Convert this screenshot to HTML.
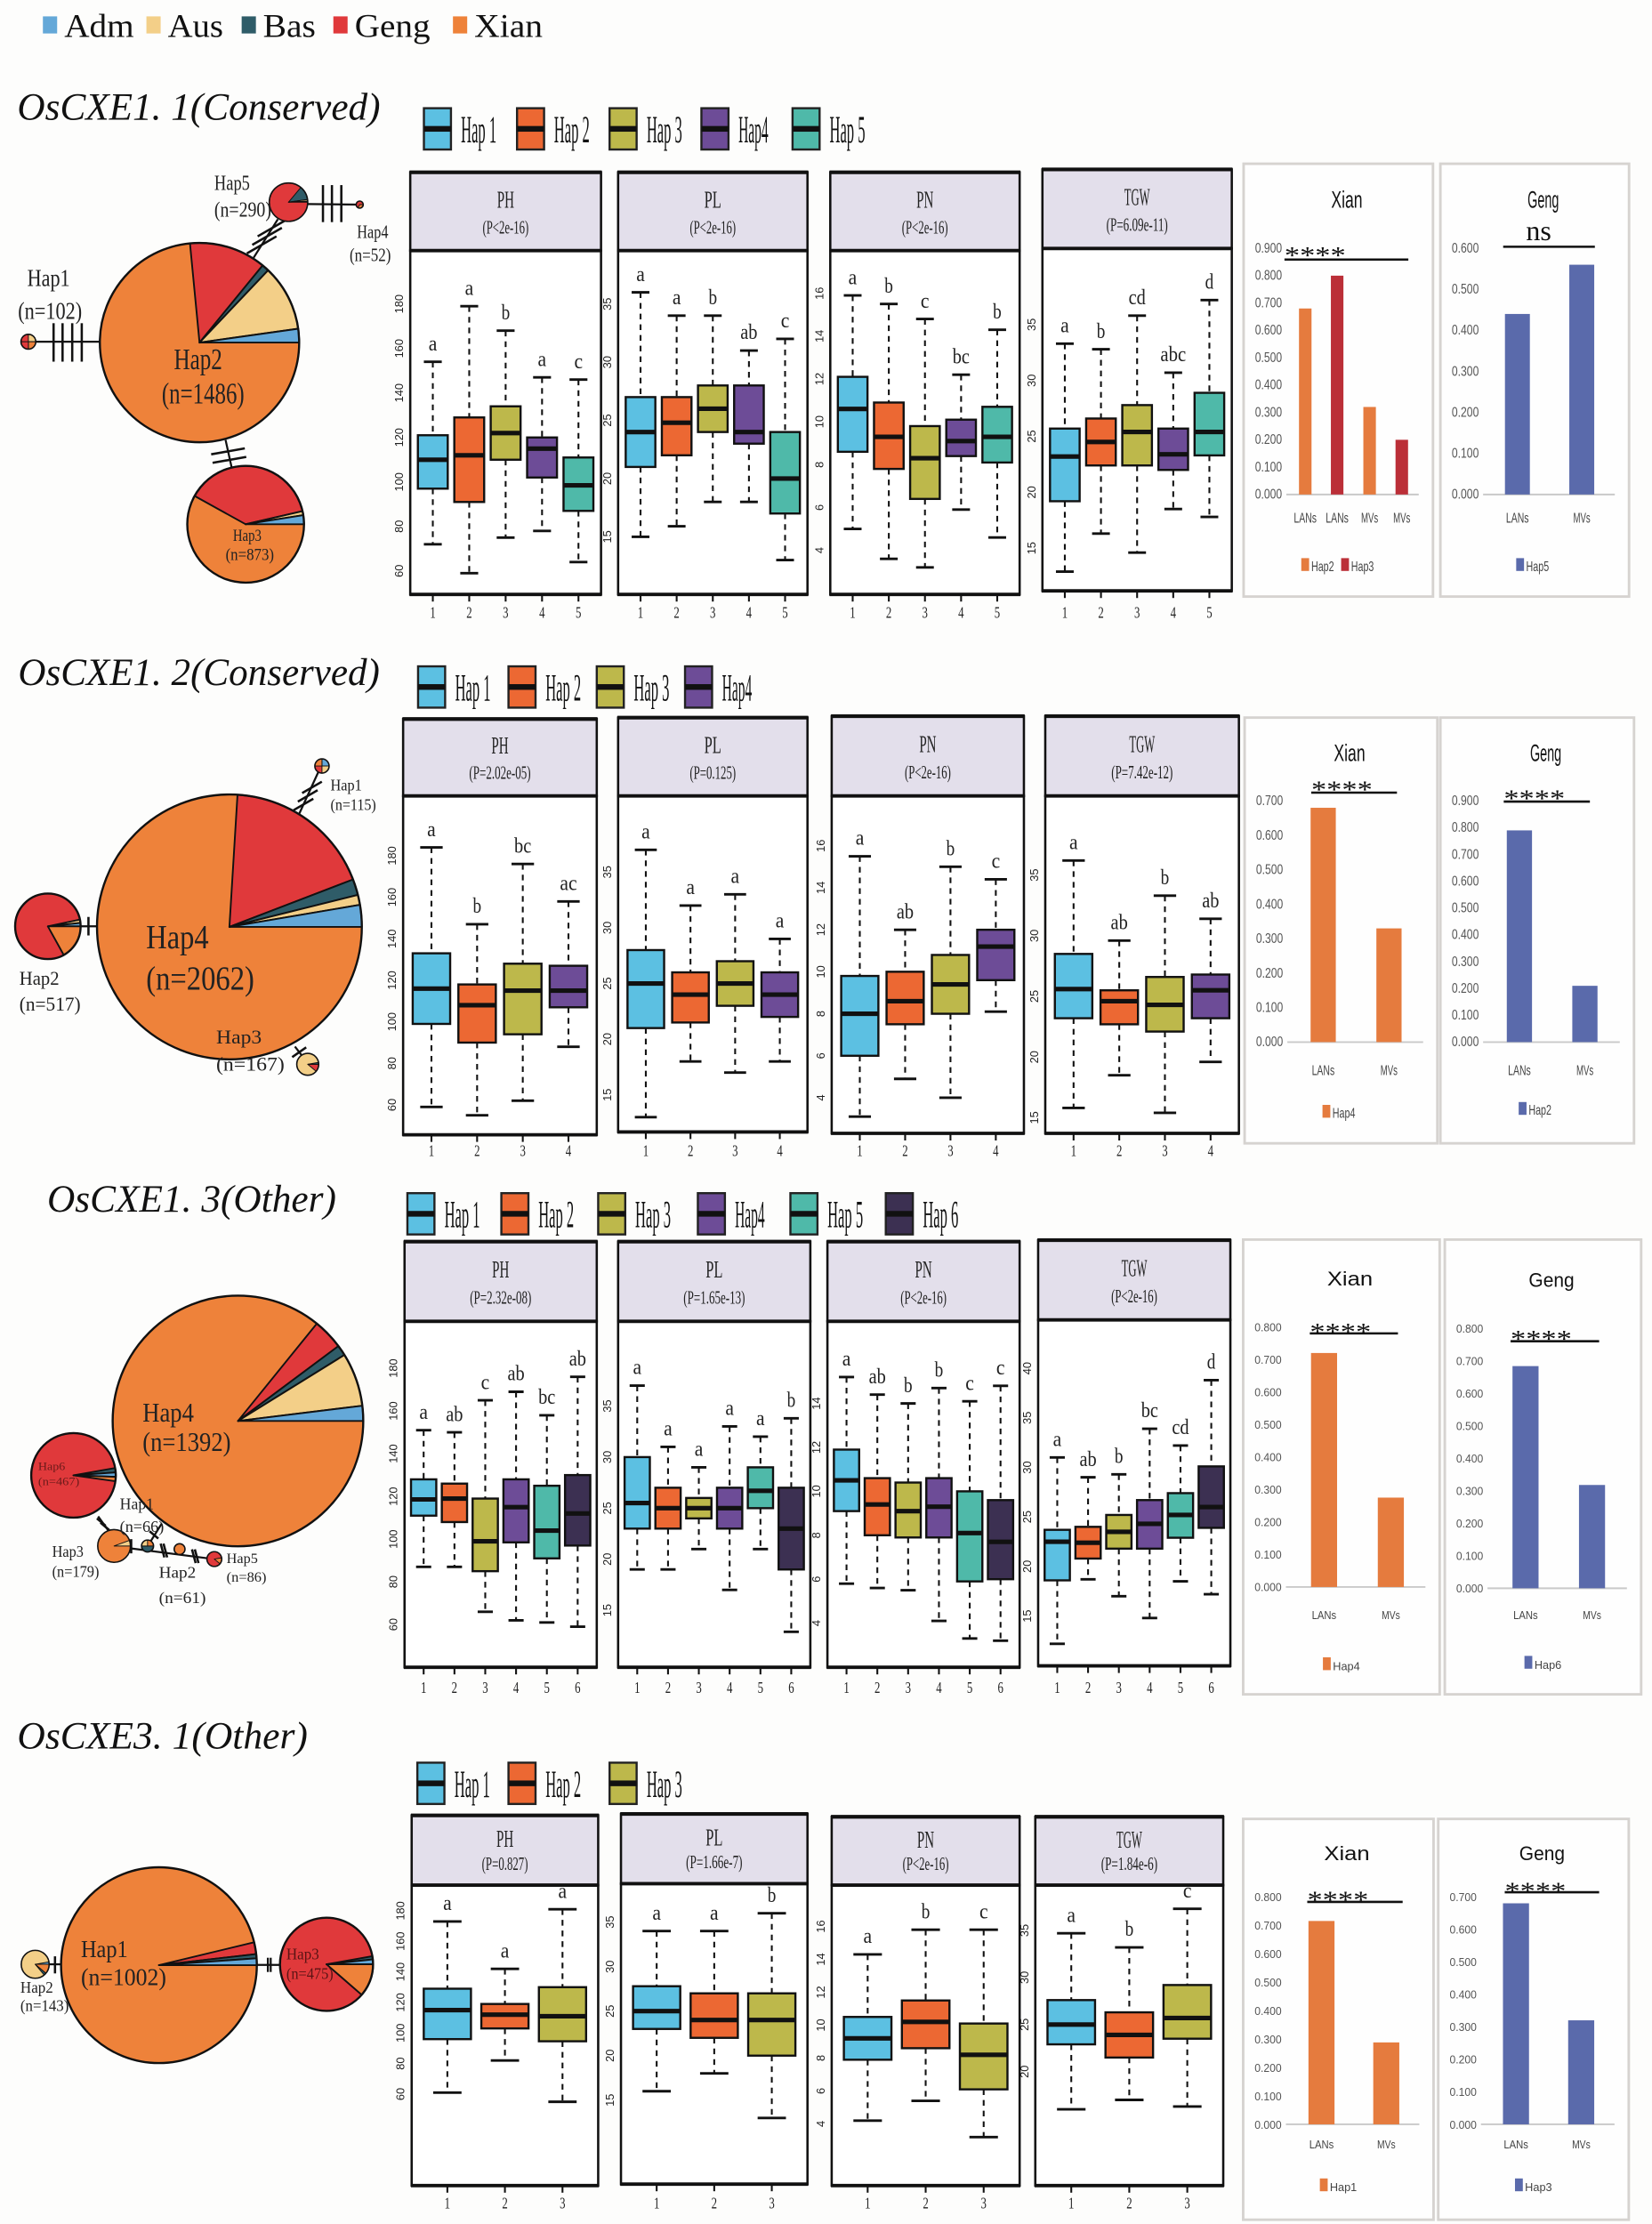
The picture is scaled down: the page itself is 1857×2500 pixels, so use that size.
<!DOCTYPE html>
<html><head><meta charset="utf-8">
<style>
html,body{margin:0;padding:0;background:#fdfdfc;}
svg{display:block;}
text{font-family:"Liberation Serif",serif;}
.sans{font-family:"Liberation Sans",sans-serif;}
</style></head>
<body>
<svg id="chart" width="1857" height="2500" viewBox="0 0 1160 1562" xmlns="http://www.w3.org/2000/svg">
<rect x="0" y="0" width="1160" height="1562" fill="#fdfdfc"/>
</svg>
<script>
// ===== DATA =====
const traits = ['PH','PL','PN','TGW'];
const groupNames = ['Adm','Aus','Bas','Geng','Xian'];
const sectionTitles = ['OsCXE1. 1(Conserved)','OsCXE1. 2(Conserved)','OsCXE1. 3(Other)','OsCXE3. 1(Other)'];
const hapLabels = [['Hap 1','Hap 2','Hap 3','Hap4','Hap 5'],['Hap 1','Hap 2','Hap 3','Hap4'],['Hap 1','Hap 2','Hap 3','Hap4','Hap 5','Hap 6'],['Hap 1','Hap 2','Hap 3']];
const pvals = [['(P<2e-16)','(P<2e-16)','(P<2e-16)','(P=6.09e-11)'],['(P=2.02e-05)','(P=0.125)','(P<2e-16)','(P=7.42e-12)'],['(P=2.32e-08)','(P=1.65e-13)','(P<2e-16)','(P<2e-16)'],['(P=0.827)','(P=1.66e-7)','(P<2e-16)','(P=1.84e-6)']];
// box stats: [section][trait][hap]
const whiskerHi = [
 [[154,179,168,147,146],[36,34,34,31,32],[15.9,15.5,14.8,12.2,14.3],[33.3,32.8,35.8,30.7,37.2]],
 [[184,147,176,158],[37,32,33,29],[15.5,12,15,14.4],[36.2,29.6,33.3,31.4]],
 [[151,150,165,169,158,176],[37,31,29,33,32,33.8],[15.2,14.4,14,14.7,14.1,14.8],[31,29,29.3,33.9,32.2,38.8]],
 [[173,142,181],[34,34,36],[14.3,15.8,15.8],[34.7,33.2,37.3]]];
const q3 = [
 [[121,129,134,120,111],[27,27,28,28,24],[12.1,10.9,9.8,10.1,10.7],[25.7,26.6,27.8,25.7,28.9]],
 [[133,118,128,127],[28,26,27,26],[9.8,10,10.8,12],[28.5,25.5,26.6,26.8]],
 [[128,126,119,128,125,130],[30,27,26,27,29,27],[11.9,10.6,10.4,10.6,10,9.6],[23.7,24,25.2,26.7,27.4,30.1]],
 [[129,119,130],[27.8,27,27],[10.5,11.5,10.1],[27.6,26.3,29.2]]];
const medians = [
 [[110,112,122,115,98.5],[24,24.8,26,24,20],[10.6,9.3,8.3,9.1,9.3],[23.2,24.5,25.4,23.4,25.4]],
 [[116,108,115,115],[25,24,25,24],[8,8.6,9.4,11.2],[25.6,24.6,24.3,25.5]],
 [[118.6,119,99,115,104,112],[25.5,25,25,25,26.7,23],[10.5,9.4,9.1,9.3,8.1,7.7],[22.5,22.4,23.5,24.3,25.2,26]],
 [[115,112,111],[25,24,24],[9.2,10.2,8.2],[25,23.9,25.7]]];
const q1 = [
 [[97,91,110,102,87],[21,22,24,23,17],[8.6,7.8,6.4,8.4,8.1],[19.2,22.4,22.4,22,23.3]],
 [[99,90,94,107],[21,21.5,23,22],[6,7.5,8,9.6],[23.2,22.7,22.1,23.2]],
 [[111,108,85,98.5,91,97],[23,23,24,23,25,19],[9.1,8,7.9,7.9,5.9,6],[18.6,20.8,21.8,21.8,22.9,23.9]],
 [[96,103,94.6],[23,22,20],[7.9,8.6,6.1],[22.9,21.5,23.5]]];
const whiskerLo = [
 [[72,59,75,78,64],[15,15.9,18,18,13],[5,3.6,3.2,5.9,4.6],[12.9,16.3,14.6,18.5,17.8]],
 [[59,55,62,88],[13,18,17,18],[3.1,4.9,4,8.1],[15.8,18.5,15.4,19.6]],
 [[87,87,66,62,61,59],[19,19,21,17,21,12.9],[5.8,5.6,5.5,4.1,3.3,3.2],[12.2,18.7,17,14.8,18.5,17.2]],
 [[61,82,55],[16,18,13],[4.2,5.4,3.2],[16,17,16.3]]];
const sigLetters = [
 [['a','a','b','a','c'],['a','a','b','ab','c'],['a','b','c','bc','b'],['a','b','cd','abc','d']],
 [['a','b','bc','ac'],['a','a','a','a'],['a','ab','b','c'],['a','ab','b','ab']],
 [['a','ab','c','ab','bc','ab'],['a','a','a','a','a','b'],['a','ab','b','b','c','c'],['a','ab','b','bc','cd','d']],
 [['a','a','a'],['a','a','b'],['a','b','c'],['a','b','c']]];
// bar charts: frequencies
const xianCats = [['LANs','LANs','MVs','MVs'],['LANs','MVs'],['LANs','MVs'],['LANs','MVs']];
const xianVals = [[0.68,0.80,0.32,0.20],[0.68,0.33],[0.72,0.275],[0.715,0.288]];
const xianHap = [['Hap2','Hap3','Hap2','Hap3'],['Hap4','Hap4'],['Hap4','Hap4'],['Hap1','Hap1']];
const xianMax = [0.9,0.7,0.8,0.8];
const gengCats = [['LANs','MVs'],['LANs','MVs'],['LANs','MVs'],['LANs','MVs']];
const gengVals = [[0.44,0.56],[0.79,0.21],[0.684,0.318],[0.68,0.32]];
const gengHap = ['Hap5','Hap2','Hap6','Hap3'];
const gengMax = [0.6,0.9,0.8,0.7];
const xianSig = ['****','****','****','****'];
const gengSig = ['ns','****','****','****'];

// ===== STYLE / LAYOUT =====
const hapColors = ['#5cc0e2','#ec6833','#bdb84b','#6d4c97','#4fb9a9','#3c3052'];
const groupColors = ['#64a8d8','#f3cf88','#2f5c68','#e0393b','#ee823a'];
const barOrange = '#e57b3e', barRed = '#bb2f38', barBlue = '#5a6aab';
const NS = 'http://www.w3.org/2000/svg';
const svg = document.getElementById('chart');
function mk(tag, attrs, parent){const e=document.createElementNS(NS,tag);for(const k in attrs)e.setAttribute(k,attrs[k]);(parent||svg).appendChild(e);return e;}
function txt(s, attrs, parent){const e=mk('text',attrs,parent);e.textContent=s;return e;}

const layout = [
 {x0:[288,434,583,732],x1:[422,567,716,865],ht:[121,121,121,119],hb:[176,176,176,174.5],bot:[417.5,417.5,417.5,415],
  ax:[[60,401,180,213.5],[15,377,35,213.5],[4,386.5,16,206],[15,385,35,228]],
  tk:[[60,180,20],[15,35,5],[4,16,2],[15,35,5]], xl:434, titleX:12, titleY:84, titleW:255,
  legX:[297.6,363,428,492.5,556.5], legY:76},
 {x0:[283,434,584,734],x1:[419,567,719,870],ht:[505,504,503,503],hb:[559,559,559,559],bot:[797,795,796,796],
  ax:[[60,776,180,601],[15,769,35,612.5],[4,771,16,594],[15,785,35,614.6]],
  tk:[[60,180,20],[15,35,5],[4,16,2],[15,35,5]], xl:812, titleX:12.6, titleY:481, titleW:254,
  legX:[293.5,357,419,481], legY:468},
 {x0:[284,434,581,729],x1:[419,569,716,864],ht:[872,872,872,871],hb:[928,928,928,927],bot:[1171,1171,1171,1170],
  ax:[[60,1141,180,961],[15,1131,35,987.5],[4,1140,14,985.7],[15,1135,40,961]],
  tk:[[60,180,20],[15,35,5],[4,14,2],[15,40,5]], xl:1189, titleX:33, titleY:851, titleW:203,
  legX:[286,352,420,490,555,622], legY:838},
 {x0:[289,436,584,727],x1:[420,567,716,859],ht:[1275,1274,1276,1276],hb:[1324,1323,1324,1324],bot:[1535,1534,1535,1535],
  ax:[[60,1470.8,180,1342],[15,1475,35,1350],[4,1491.7,16,1353],[20,1455,35,1355.8]],
  tk:[[60,180,20],[15,35,5],[4,16,2],[20,35,5]], xl:1551, titleX:12, titleY:1228, titleW:204,
  legX:[293,357,428], legY:1238}
];

// top population legend
const topLegX = [30,102.7,169.6,234,318];
const topLegW = [49,39,37,53,48];
groupNames.forEach((g,i)=>{
  const gg = mk('g',{});
  
  
  mk('rect',{x:topLegX[i],y:11.5,width:10,height:12,fill:groupColors[i]},gg);
  txt(g,{x:topLegX[i]+15,y:26,'font-size':23,fill:'#111',textLength:topLegW[i],lengthAdjust:'spacingAndGlyphs'},gg);
});

// ===== BOXPLOT SECTIONS =====
layout.forEach((L,s)=>{
  const sec = mk('g',{});
  
  
  const t = txt(sectionTitles[s],{x:L.titleX,y:L.titleY,'font-size':27,'font-style':'italic',fill:'#111',textLength:L.titleW,lengthAdjust:'spacingAndGlyphs'},sec);
  
  
  hapLabels[s].forEach((h,i)=>{
    const lg = mk('g',{},sec);
    
    
    const x=L.legX[i], y=L.legY;
    mk('rect',{x:x,y:y,width:19,height:29,fill:hapColors[i],stroke:'#222','stroke-width':1.5},lg);
    mk('rect',{x:x,y:y+12.5,width:19,height:4,fill:'#111'},lg);
    txt(h,{x:x+26,y:y+24,'font-size':27,fill:'#111',textLength:(h.length>4?25:21),lengthAdjust:'spacingAndGlyphs'},lg);
  });
  traits.forEach((tr,k)=>{
    const n = hapLabels[s].length;
    const x0=L.x0[k], x1=L.x1[k], ht=L.ht[k], hb=L.hb[k], bot=L.bot[k];
    const A=L.ax[k];
    const yS = v => A[1] + (v-A[0])*(A[3]-A[1])/(A[2]-A[0]);
    const W = x1-x0, unit = W/(n+0.24);
    const xS = i => x0 + (0.62+i)*unit;
    const bw = unit*0.82;
    const pg = mk('g',{},sec);
    
    
    const hdr = mk('rect',{x:x0,y:ht,width:W,height:hb-ht,fill:'#e3dfeb',stroke:'#111','stroke-width':1.6},pg);
    
    
    mk('line',{x1:x0-0.5,x2:x1+0.5,y1:ht,y2:ht,stroke:'#111','stroke-width':2.6},pg);
    mk('rect',{x:x0,y:hb,width:W,height:bot-hb,fill:'#fff',stroke:'#111','stroke-width':1.6},pg);
    mk('line',{x1:x0-0.5,x2:x1+0.5,y1:hb,y2:hb,stroke:'#111','stroke-width':2.4},pg);
    mk('line',{x1:x0-0.5,x2:x1+0.5,y1:bot,y2:bot,stroke:'#111','stroke-width':2.4},pg);
    const hh = hb-ht;
    txt(tr,{x:(x0+x1)/2,y:ht+hh*0.45,'font-size':17,'text-anchor':'middle',fill:'#222',textLength:tr.length*6,lengthAdjust:'spacingAndGlyphs'},pg);
    txt(pvals[s][k],{x:(x0+x1)/2,y:ht+hh*0.78,'font-size':13,'text-anchor':'middle',fill:'#222',textLength:pvals[s][k].length*3.6,lengthAdjust:'spacingAndGlyphs'},pg);
    const tk=L.tk[k];
    for(let v=tk[0]; v<=tk[1]+1e-9; v+=tk[2]){
      const yy=yS(v);
      const tl = txt(String(v),{x:0,y:0,'font-size':8,'text-anchor':'middle',fill:'#222',class:'sans',transform:`translate(${x0-5},${yy}) rotate(-90)`},pg);
      
      
    }
    for(let i=0;i<n;i++){
      const cx=xS(i);
      const bg = mk('g',{},pg);
      
      
      const hi=yS(whiskerHi[s][k][i]), lo=yS(whiskerLo[s][k][i]);
      const b3=yS(q3[s][k][i]), b1=yS(q1[s][k][i]), md=yS(medians[s][k][i]);
      mk('line',{x1:cx,x2:cx,y1:hi,y2:b3,stroke:'#111','stroke-width':1.3,'stroke-dasharray':'4,3.5'},bg);
      mk('line',{x1:cx,x2:cx,y1:b1,y2:lo,stroke:'#111','stroke-width':1.3,'stroke-dasharray':'4,3.5'},bg);
      mk('line',{x1:cx-bw*0.3,x2:cx+bw*0.3,y1:hi,y2:hi,stroke:'#111','stroke-width':1.8},bg);
      mk('line',{x1:cx-bw*0.3,x2:cx+bw*0.3,y1:lo,y2:lo,stroke:'#111','stroke-width':1.8},bg);
      mk('rect',{x:cx-bw/2,y:b3,width:bw,height:b1-b3,fill:hapColors[i],stroke:'#111','stroke-width':1.5},bg);
      mk('line',{x1:cx-bw/2,x2:cx+bw/2,y1:md,y2:md,stroke:'#111','stroke-width':3.2},bg);
      txt(sigLetters[s][k][i],{x:cx,y:hi-8,'font-size':15,'text-anchor':'middle',fill:'#222',textLength:sigLetters[s][k][i].length*6,lengthAdjust:'spacingAndGlyphs'},bg);
      mk('line',{x1:cx,x2:cx,y1:bot,y2:bot+5,stroke:'#111','stroke-width':1.3},pg);
      txt(String(i+1),{x:cx,y:L.xl,'font-size':11,'text-anchor':'middle',fill:'#222',textLength:4,lengthAdjust:'spacingAndGlyphs'},pg);
    }
  });
});

// ===== BAR CHART PANELS =====
const barLayout = [
 {xian:{x0:873.3,x1:1006.3,y0:115,y1:419,z:347.3,t:174.4,bx:[916.6,939,961.8,984.4],bw:8.8,ty:145.8,sx:902,sy:178,lx:[902,989],ly:182.3,lab:367,leg:401},
  geng:{x0:1011.5,x1:1144,y0:115,y1:419,z:347.3,t:174.4,bx:[1065.6,1110.8],bw:17.5,ty:145.8,sx:1080.5,sy:168.7,lx:[1055.6,1120],ly:173.3,lab:367,leg:401}, narrow:true},
 {xian:{x0:874,x1:1009.4,y0:504,y1:803,z:731.9,t:562.5,bx:[929.2,975.4],bw:17.7,ty:534.4,sx:920.8,sy:553,lx:[920.8,981],ly:556.7,lab:755,leg:785},
  geng:{x0:1011.5,x1:1147.5,y0:504,y1:803,z:731.9,t:562.5,bx:[1067,1113],bw:17.7,ty:534.4,sx:1056,sy:559.4,lx:[1056,1116.5],ly:563,lab:755,leg:783}, narrow:true},
 {xian:{x0:873,x1:1011,y0:870.6,y1:1190,z:1114.6,t:932,bx:[929.8,976.7],bw:18.3,ty:902.9,sx:919.8,sy:934,lx:[919.8,981.7],ly:936.5,lab:1137,leg:1173},
  geng:{x0:1014.6,x1:1152.5,y0:870.6,y1:1190,z:1115.5,t:933,bx:[1071.3,1118],bw:18.3,ty:903.8,sx:1060.8,sy:939,lx:[1060.8,1123],ly:942,lab:1137,leg:1172}, narrow:false},
 {xian:{x0:873,x1:1006.7,y0:1277.5,y1:1559,z:1492,t:1332.2,bx:[928,973.5],bw:18.3,ty:1306.6,sx:918,sy:1333,lx:[918,985],ly:1335.8,lab:1509,leg:1539},
  geng:{x0:1010,x1:1143.8,y0:1277.5,y1:1559,z:1492,t:1332.2,bx:[1064.6,1110.4],bw:18.3,ty:1306.6,sx:1056.7,sy:1326.5,lx:[1056.7,1123],ly:1329,lab:1509,leg:1539}, narrow:false}
];

function barPanel(B, name, title, cats, vals, colors, max, sig, legItems, narrow){
  const g = mk('g',{});
  
  
  mk('rect',{x:B.x0,y:B.y0,width:B.x1-B.x0,height:B.y1-B.y0,fill:'#fefefe',stroke:'#d6d3d0','stroke-width':1.8},g);
  const yS = v => B.z + (B.t-B.z)*v/max;
  const fs = narrow?10:8;
  const tickW = 19;
  const steps = Math.round(max/0.1);
  for(let j=0;j<=steps;j++){
    const v=j*0.1;
    txt(v.toFixed(3),{x:B.x0+27,y:yS(v)+3,'font-size':fs,'text-anchor':'end',fill:'#555',class:'sans',textLength:tickW,lengthAdjust:'spacingAndGlyphs'},g);
  }
  mk('line',{x1:B.x0+30,x2:B.x1-10,y1:B.z,y2:B.z,stroke:'#c9c9c9','stroke-width':1.2},g);
  vals.forEach((v,i)=>{
    const r = mk('rect',{x:B.bx[i]-B.bw/2,y:yS(v),width:B.bw,height:B.z-yS(v),fill:colors[i]},g);
    
    
    txt(cats[i],{x:B.bx[i],y:B.lab,'font-size':fs,'text-anchor':'middle',fill:'#444',class:'sans',textLength:(cats[i].length*(narrow?4:4.3)),lengthAdjust:'spacingAndGlyphs'},g);
  });
  txt(title,{x:(B.x0+B.x1)/2+6,y:B.ty,'font-size':narrow?17:14,'text-anchor':'middle',fill:'#111',class:'sans',textLength:narrow?title.length*5.5:title.length*8,lengthAdjust:'spacingAndGlyphs'},g);
  if(sig==='ns'){
    txt('ns',{x:B.sx,y:B.sy,'font-size':20,'text-anchor':'middle',fill:'#111'},g);
  } else {
    txt(sig,{x:B.sx,y:B.sy+7,'font-size':17,fill:'#111',textLength:43,lengthAdjust:'spacingAndGlyphs'},g);
  }
  mk('line',{x1:B.lx[0],x2:B.lx[1],y1:B.ly,y2:B.ly,stroke:'#111','stroke-width':1.6},g);
  const lx0 = (B.x0+B.x1)/2 - legItems.length*13;
  legItems.forEach((it,i)=>{
    const x=lx0+i*28;
    mk('rect',{x:x,y:B.leg-9,width:5.5,height:9,fill:it[1]},g);
    txt(it[0],{x:x+7,y:B.leg,'font-size':fs,fill:'#444',class:'sans',textLength:narrow?16:19,lengthAdjust:'spacingAndGlyphs'},g);
  });
}
barLayout.forEach((BL,s)=>{
  const xc = xianHap[s].map(h=> (s===0 && h==='Hap3') ? barRed : barOrange);
  const legs = [];
  xianHap[s].forEach((h,i)=>{ if(!legs.find(l=>l[0]===h)) legs.push([h,xc[i]]); });
  barPanel(BL.xian,'xian-bar-chart-'+(s+1),'Xian',xianCats[s],xianVals[s],xc,xianMax[s],xianSig[s],legs,BL.narrow);
  barPanel(BL.geng,'geng-bar-chart-'+(s+1),'Geng',gengCats[s],gengVals[s],gengVals[s].map(()=>barBlue),gengMax[s],gengSig[s],[[gengHap[s],barBlue]],BL.narrow);
});

// ===== HAPLOTYPE NETWORK PIES =====
function pie(cx,cy,r,slices,base,name){
  const g = mk('g',{});
  
  
  mk('circle',{cx:cx,cy:cy,r:r,fill:groupColors[base]},g);
  slices.forEach(sl=>{
    const a0=sl[0]*Math.PI/180, a1=sl[1]*Math.PI/180;
    const large = (sl[1]-sl[0])>180?1:0;
    const d=`M${cx},${cy} L${cx+r*Math.cos(a0)},${cy+r*Math.sin(a0)} A${r},${r} 0 ${large} 1 ${cx+r*Math.cos(a1)},${cy+r*Math.sin(a1)} Z`;
    mk('path',{d:d,fill:groupColors[sl[2]],stroke:'#111','stroke-width':r>20?1.2:0.6,'stroke-linejoin':'round'},g);
  });
  mk('circle',{cx:cx,cy:cy,r:r,fill:'none',stroke:'#111','stroke-width':r>20?1.5:1},g);
  return g;
}
function line(x1,y1,x2,y2,w){ const l=mk('line',{x1:x1,y1:y1,x2:x2,y2:y2,stroke:'#111','stroke-width':w||1.4});   return l;}
function hatch(x,y,ang,len){ const a=ang*Math.PI/180; line(x-len*Math.cos(a),y-len*Math.sin(a),x+len*Math.cos(a),y+len*Math.sin(a),1.6); }
function lab(s,x,y,fs,col,w){ const t=txt(s,{x:x,y:y,'font-size':fs,fill:col||'#222'}); if(w){t.setAttribute('textLength',w);t.setAttribute('lengthAdjust','spacingAndGlyphs');}   return t;}

// Section 1
line(20,240,70,240); [37.5,43.8,50.6,57.3].forEach(x=>line(x,227,x,254,1.6));
line(178,181,195,154); [160,166,172].forEach(y=>{const t=(y-154)/27; hatch(195-17*t, y, 150, 12);});
line(216,143.3,252.5,143.7); [226.7,233,239.6].forEach(x=>line(x,130,x,156,1.6));
line(158.3,309,162.5,328); hatch(160,317,-10,12); hatch(161,323,-10,12);
pie(140,240.6,70,[[-95.5,-50.7,3],[-50.7,-46.5,2],[-46.5,-8,1],[-8,0,0]],4,'pie-s1-hap2');
pie(172.4,368.2,41,[[-151,-13,3],[-13,-9,1],[-9,0,0]],4,'pie-s1-hap3');
pie(202.5,142,13.5,[[-50,-8,2],[-8,-3,1],[-3,0,4]],3,'pie-s1-hap5');
pie(19.8,240,5.2,[[-90,0,1],[0,90,4],[90,180,3]],3,'pie-s1-hap1');
pie(252.5,143.7,2.5,[[0,120,4]],3,'pie-s1-hap4');
lab('Hap1',19,201,17,'#222',30); lab('(n=102)',12.5,224,17,'#222',45);
lab('Hap2',122,259.4,21,'#222',34); lab('(n=1486)',113.5,283.3,21,'#222',58);
lab('Hap3',163.5,380,12,'#222',20); lab('(n=873)',158.3,393.3,12,'#222',34);
lab('Hap5',150.4,133.3,15,'#222',25); lab('(n=290)',150.4,152,15,'#222',40);
lab('Hap4',250.6,167,13,'#222',22); lab('(n=52)',245.4,183.3,13,'#222',29);

// Section 2
line(57,650.6,68,650.6); line(62,644,62,657,1.6);
line(208,576,224,541); hatch(213,565,-30,8); hatch(216,559,-30,8); hatch(219,553,-30,8);
line(207,735,214,744); hatch(210,739,-35,6);
pie(161,651,93,[[-86.5,-21,3],[-21,-14,2],[-14,-9.6,1],[-9.6,0,0]],4,'pie-s2-hap4');
pie(33.5,650.6,23,[[-12,-6,1],[-6,0,0],[0,61,4]],3,'pie-s2-hap2');
pie(226,538,5,[[-90,0,0],[0,90,1],[180,270,4]],3,'pie-s2-hap1');
pie(216,747.5,7.7,[[0,40,3],[-10,0,2]],1,'pie-s2-hap3');
lab('Hap4',102.5,666,24,'#222',44); lab('(n=2062)',102.5,695,24,'#222',76);
lab('Hap2',13.5,691.8,14,'#222',28); lab('(n=517)',13.5,709.7,14,'#222',43);
lab('Hap1',232,555,11,'#222',22); lab('(n=115)',232,569,11,'#222',32);
lab('Hap3',151.7,733,14,'#222',32); lab('(n=167)',151.7,752,14,'#222',48);

// Section 3
line(68.8,1065,76,1075); hatch(71,1069,40,4); hatch(73.5,1072,40,4);
line(80,1086,150,1095); line(103.5,1086,113.5,1070); hatch(108,1078,40,4);
line(92,1081,92,1091,1.6); hatch(114,1089,75,5); hatch(116,1089,75,5); hatch(136,1093,75,5); hatch(138,1093,75,5);
pie(167,998,88,[[-51,-36.7,3],[-36.7,-31.8,2],[-31.8,-7,1],[-7,0,0]],4,'pie-s3-hap4');
pie(51.5,1036.2,29.7,[[-10,-4,2],[-4,2,0],[2,8,4]],3,'pie-s3-hap6');
pie(80,1085.8,11.5,[[-20,0,1]],4,'pie-s3-hap3');
pie(103.5,1085.8,4.2,[[0,180,2],[180,270,1]],4,'pie-s3-hap1');
pie(126,1088,3.8,[],4,'pie-s3-hap2');
pie(150.4,1095,5.2,[[-10,40,4]],3,'pie-s3-hap5');
lab('Hap4',100,998.5,19,'#222',36); lab('(n=1392)',100,1019,19,'#222',62);
lab('Hap6',26.7,1032.5,8,'#6b1a1a',19); lab('(n=467)',26.7,1043,8,'#6b1a1a',29);
lab('Hap3',36.5,1093.5,11,'#222',22); lab('(n=179)',36.5,1107.4,11,'#222',33);
lab('Hap1',84,1060,11,'#222',24); lab('(n=66)',84,1076,11,'#222',31);
lab('Hap2',111.5,1108,11,'#222',26); lab('(n=61)',111.5,1126,11,'#222',33);
lab('Hap5',159,1097.8,10,'#222',22); lab('(n=86)',159,1111,10,'#222',28);

// Section 4
line(34,1379.6,43,1379.6); line(38.5,1374,38.5,1386,1.6);
line(180,1380,197,1380); line(188,1375,188,1385,1.4); line(190,1375,190,1385,1.4);
pie(111.5,1380.2,68.75,[[-13.5,-6.5,3],[-6.5,-4,2],[-4,0,0]],4,'pie-s4-hap1');
pie(24.6,1379.6,9.8,[[-10,0,0],[0,40,4],[40,50,2]],1,'pie-s4-hap2');
pie(229.2,1379.6,32.7,[[-10,-6,2],[-6,0,0],[0,41,4]],3,'pie-s4-hap3');
lab('Hap1',56.7,1374.6,17,'#222',33); lab('(n=1002)',56.7,1394.2,17,'#222',60);
lab('Hap2',14.2,1399.6,11,'#222',23); lab('(n=143)',14.2,1412.5,11,'#222',34);
lab('Hap3',201,1376,11,'#5a1414',23); lab('(n=475)',201,1390,11,'#5a1414',33);
</script>
</body></html>
